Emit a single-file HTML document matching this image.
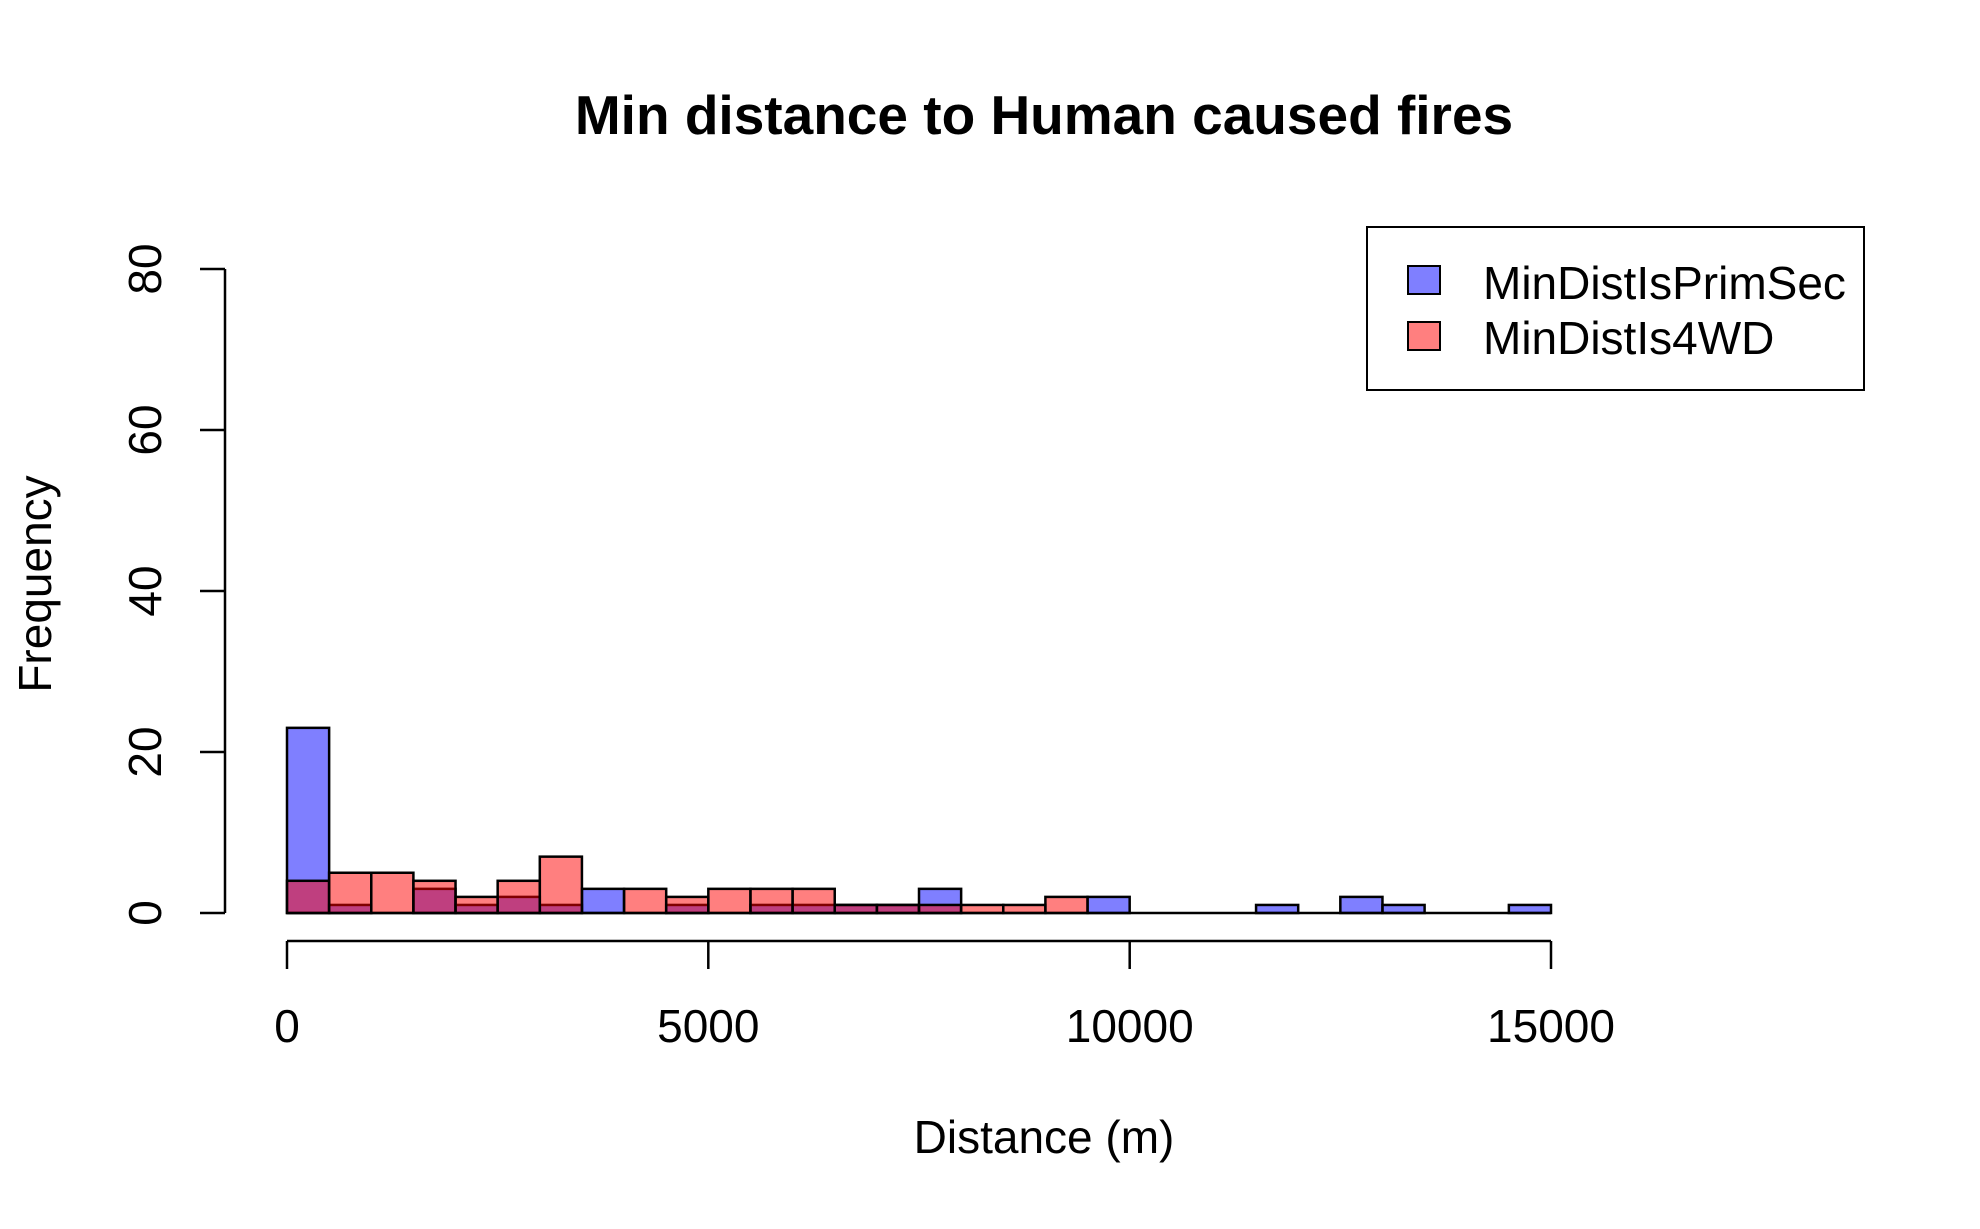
<!DOCTYPE html>
<html><head><style>body{margin:0;background:#fff}</style></head><body>
<svg width="1980" height="1224" xmlns="http://www.w3.org/2000/svg" font-family="Liberation Sans, sans-serif">
<rect width="1980" height="1224" fill="#fff"/>
<text x="1044" y="134" font-size="55" font-weight="bold" text-anchor="middle">Min distance to Human caused fires</text>
<line x1="287" y1="913" x2="1551" y2="913" stroke="#000" stroke-width="2.5"/>
<g id="bars" stroke="#000" stroke-width="2.5"></g>
<line x1="225" y1="269" x2="225" y2="913" stroke="#000" stroke-width="2.5"/>
<g stroke="#000" stroke-width="2.5">
<line x1="200" y1="913" x2="225" y2="913"/><line x1="200" y1="752" x2="225" y2="752"/><line x1="200" y1="591" x2="225" y2="591"/><line x1="200" y1="430" x2="225" y2="430"/><line x1="200" y1="269" x2="225" y2="269"/>
<line x1="287" y1="941" x2="1551" y2="941"/>
<line x1="287" y1="941" x2="287" y2="969"/><line x1="708.3" y1="941" x2="708.3" y2="969"/><line x1="1129.7" y1="941" x2="1129.7" y2="969"/><line x1="1551" y1="941" x2="1551" y2="969"/>
</g>
<g font-size="46" text-anchor="middle">
<text x="287" y="1042">0</text><text x="708.3" y="1042">5000</text><text x="1129.7" y="1042">10000</text><text x="1551" y="1042">15000</text>
<g transform="translate(161,0)">
<text transform="translate(0,913) rotate(-90)">0</text>
<text transform="translate(0,752) rotate(-90)">20</text>
<text transform="translate(0,591) rotate(-90)">40</text>
<text transform="translate(0,430) rotate(-90)">60</text>
<text transform="translate(0,269) rotate(-90)">80</text>
</g>
<text x="1044" y="1153">Distance (m)</text>
<text transform="translate(51,584) rotate(-90)">Frequency</text>
</g>
<rect x="1367" y="227" width="497" height="163" fill="none" stroke="#000" stroke-width="2"/>
<rect x="1408" y="266" width="32" height="28" fill="rgba(0,0,255,0.5)" stroke="#000" stroke-width="2"/>
<rect x="1408" y="322" width="32" height="28" fill="rgba(255,0,0,0.5)" stroke="#000" stroke-width="2"/>
<text x="1483" y="299" font-size="46">MinDistIsPrimSec</text>
<text x="1483" y="354" font-size="46">MinDistIs4WD</text>
</svg>
<script>
const b=[23,1,0,3,1,2,1,3,0,1,0,1,1,1,1,3,0,0,0,2,0,0,0,1,0,2,1,0,0,1];
const r=[4,5,5,4,2,4,7,0,3,2,3,3,3,1,1,1,1,1,2];
const g=document.getElementById('bars');const w=(1551-287)/30,u=(913-269)/80;
function draw(a,c){a.forEach((v,i)=>{if(!v)return;const e=document.createElementNS('http://www.w3.org/2000/svg','rect');e.setAttribute('x',287+i*w);e.setAttribute('y',913-v*u);e.setAttribute('width',w);e.setAttribute('height',v*u);e.setAttribute('fill',c);g.appendChild(e);});}
draw(b,'rgba(0,0,255,0.5)');draw(r,'rgba(255,0,0,0.5)');
</script>
</body></html>
